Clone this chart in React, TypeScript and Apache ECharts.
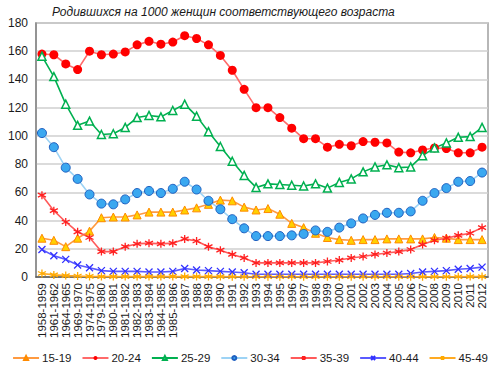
import React, { useEffect, useRef } from "react";
import * as echarts from "echarts";

const categories = [
  "1958-1959", "1961-1962", "1964-1965", "1969-1970", "1974-1975", "1979-1980",
  "1980-1981", "1981-1982", "1982-1983", "1983-1984", "1984-1985", "1985-1986",
  "1987", "1988", "1989", "1990", "1991", "1992", "1993", "1994", "1995", "1996",
  "1997", "1998", "1999", "2000", "2001", "2002", "2003", "2004", "2005", "2006",
  "2007", "2008", "2009", "2010", "2011", "2012",
];

const age15_19 = [27.5, 26, 21.5, 27.5, 32.5, 42, 42.5, 42.5, 44, 46, 46, 46, 47.5, 49, 51.5, 54.5, 54, 49.5, 47.5, 48.5, 44.5, 38, 35, 31, 28, 26.5, 26, 26.5, 26.5, 27, 27, 27, 27, 28, 27.5, 26.5, 26.5, 26.5];
const age20_24 = [158, 157.5, 151, 147, 160, 157.5, 158, 159.5, 164.5, 167, 165, 166.5, 171, 169, 164.5, 157, 146.5, 133, 120, 120, 113, 105.5, 98, 98, 92, 94, 93, 96, 95.5, 95, 88.5, 88, 90, 91.5, 91, 88, 88, 92];
const age25_29 = [156.5, 142, 122.5, 107.5, 110.5, 101, 101.5, 106, 113, 114.5, 113.5, 118, 122.5, 114, 103, 92.5, 82, 72, 63.5, 66, 65.5, 65, 64.5, 66, 63, 67, 69.5, 74.5, 78, 79.5, 77.5, 78, 86, 91.5, 95, 99, 99.5, 106];
const age30_34 = [102, 92, 77.5, 69.5, 58.5, 52, 51.5, 55, 59.5, 61, 59.5, 62.5, 67.5, 62, 54, 48, 41, 34.5, 29, 29, 29, 29.5, 30.5, 33, 32, 35, 38, 41.5, 44, 45.5, 45.5, 46.5, 54, 59.5, 63, 67.5, 68, 74];
const age35_39 = [58, 47, 39, 32, 28, 18, 18, 21.5, 23.5, 24, 23.5, 24, 27, 25.5, 21.5, 19, 16, 13.5, 10, 10, 10, 10, 10, 10, 11, 12, 13.5, 14.5, 16, 17, 18, 19.5, 23, 26, 27.5, 29.5, 31, 35];
const age40_44 = [19.5, 15, 12.5, 8.5, 6.5, 4.5, 4, 4, 4, 3.5, 3.5, 4, 6, 5, 4.5, 4, 3.5, 3, 2, 2, 2, 2, 2, 2, 2, 2, 2, 2, 2, 2, 2, 2.5, 3.5, 4, 4.5, 5.5, 6, 7];
const age45_49 = [2.5, 1.5, 1, 0.7, 0.4, 0.3, 0.3, 0.3, 0.3, 0.3, 0.3, 0.4, 0.3, 0.3, 0.3, 0.3, 0.2, 0.2, 0.2, 0.2, 0.2, 0.2, 0.2, 0.2, 0.2, 0.2, 0.2, 0.2, 0.2, 0.2, 0.2, 0.2, 0.2, 0.2, 0.2, 0.2, 0.3, 0.3];

const yTicks = { min: 0, max: 180, interval: 20 };
const titleText = "Родившихся на 1000 женщин соответствующего возраста";

const XSYM = "path://M0,0L10,10M10,0L0,10";
const STAR = "path://M5,0L5,10M0,2.5L10,7.5M0,7.5L10,2.5";

export default function App() {
  const ref = useRef<HTMLDivElement>(null);
  useEffect(() => {
    document.body.style.margin = "0";
    if (!ref.current) return;
    const chart = echarts.init(ref.current, null, { renderer: "svg" });
    const mk = (
      name: string,
      data: number[],
      lineColor: string,
      symbol: string,
      size: number,
      fill: string,
      border: string,
      bw: number
    ) => ({
      name,
      type: "line",
      data,
      symbol,
      symbolSize: size,
      showAllSymbol: true,
      lineStyle: { color: lineColor, width: 1.6 },
      itemStyle: { color: fill, borderColor: border, borderWidth: bw },
      emphasis: { disabled: true },
    });
    chart.setOption({
      animation: false,
      title: {
        text: titleText,
        left: 47,
        top: 1,
        textStyle: {
          fontFamily: "Liberation Sans",
          fontStyle: "italic",
          fontWeight: "normal",
          fontSize: 12,
          color: "#1a1a1a",
        },
      },
      grid: {
        left: 36,
        right: 12,
        top: 23,
        bottom: 100,
        show: true,
        borderColor: "#a0a0a0",
        borderWidth: 1.5,
      },
      legend: {
        bottom: 8,
        left: "center",
        itemWidth: 26,
        itemHeight: 5,
        itemGap: 10,
        textStyle: { fontFamily: "Liberation Sans", fontSize: 11.5, color: "#1a1a1a", padding: [0, 0, 0, -2] },
      },
      xAxis: {
        type: "category",
        data: categories,
        boundaryGap: true,
        axisLine: { lineStyle: { color: "#555", width: 1.5 } },
        axisTick: { show: false },
        axisLabel: {
          rotate: 90,
          interval: 0,
          fontFamily: "Liberation Sans",
          fontSize: 11.5,
          color: "#1a1a1a",
          margin: 6,
        },
      },
      yAxis: {
        type: "value",
        min: yTicks.min,
        max: yTicks.max,
        interval: yTicks.interval,
        axisLine: { show: true, lineStyle: { color: "#888", width: 1.5 } },
        axisTick: { show: false },
        splitLine: { lineStyle: { color: "#cfcfcf", width: 1.5 } },
        axisLabel: {
          fontFamily: "Liberation Sans",
          fontSize: 12,
          color: "#1a1a1a",
          margin: 8,
        },
      },
      series: [
        mk("15-19", age15_19, "#ff9a40", "triangle", 8, "#ffd000", "#ff8a00", 1),
        mk("20-24", age20_24, "#ff6a6a", "circle", 9, "#ff0000", "#ff0000", 0),
        mk("25-29", age25_29, "#00b050", "triangle", 8, "#ffffff", "#00b050", 1.5),
        mk("30-34", age30_34, "#9dd3f5", "circle", 9, "#3aa8f0", "#1e5fc0", 1),
        mk("35-39", age35_39, "#ff5a5a", STAR, 8, "#ff2020", "#ff2020", 1.3),
        mk("40-44", age40_44, "#5a5aff", XSYM, 7, "#3030ff", "#3030ff", 1.3),
        mk("45-49", age45_49, "#ffaa22", STAR, 8, "#ffaa00", "#ffaa00", 1.3),
      ],
    });
    return () => chart.dispose();
  }, []);
  return <div ref={ref} style={{ width: 500, height: 377 }} />;
}
